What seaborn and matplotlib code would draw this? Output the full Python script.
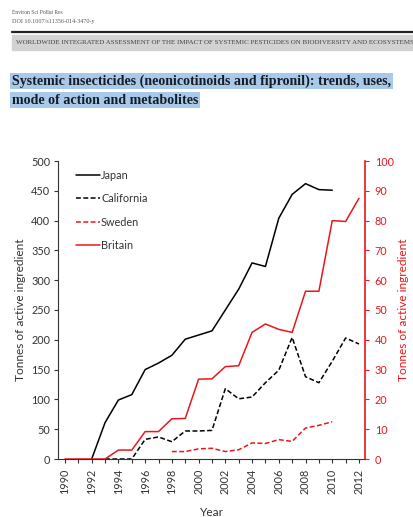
import numpy as np
import pandas as pd
import seaborn as sns
import matplotlib.pyplot as plt
from matplotlib.lines import Line2D

# Data
japan_years = list(range(1992, 2011))
japan = [0, 61, 99, 108, 150, 161, 174, 201, 208, 215, 250, 285, 329, 323, 404, 444, 462, 452, 451]

california_years = list(range(1993, 2013))
california = [0, 0, 0, 33, 37, 29, 47, 47, 48, 118, 101, 104, 128, 149, 204, 138, 128, 164, 203, 193]

sweden_years = list(range(1998, 2011))
sweden = [2.5, 2.5, 3.4, 3.6, 2.5, 3.1, 5.4, 5.2, 6.5, 5.9, 10.4, 11.3, 12.5]

britain_years = list(range(1990, 2013))
britain = [0, 0, 0, 0, 3, 3, 9.2, 9.2, 13.5, 13.6, 26.8, 26.9, 31, 31.3, 42.5, 45.3,
           43.5, 42.5, 56.3, 56.3, 80, 79.7, 87.5]

year_ticks = list(range(1990, 2013, 2))
left_ticks = list(range(0, 501, 50))
right_ticks = list(range(0, 101, 10))

RED = "#e8171b"
GREY = "#333333"
sns.set_style("white")
plt.rcParams['font.family'] = ['Lato', 'DejaVu Sans']

fig = plt.figure(figsize=(4.14, 5.17), dpi=100)

# page header of the paper
serif = ['Liberation Serif', 'DejaVu Serif']
fig.text(12 / 414, 1 - 12 / 517, "Environ Sci Pollut Res", fontsize=4.0, family=serif,
         color="#555555", va="center")
fig.text(12 / 414, 1 - 21 / 517, "DOI 10.1007/s11356-014-3470-y", fontsize=4.4, family=serif,
         color="#555555", va="center")
fig.add_artist(Line2D([12 / 414, 1], [1 - 32 / 517] * 2, color="#222222", lw=1.6))
fig.patches.append(plt.Rectangle((12 / 414, 1 - 50 / 517), 1 - 12 / 414, 15 / 517,
                                 transform=fig.transFigure, color="#d2d2d2", zorder=0))
fig.text(16 / 414, 1 - 42.5 / 517,
         "WORLDWIDE INTEGRATED ASSESSMENT OF THE IMPACT OF SYSTEMIC PESTICIDES ON BIODIVERSITY AND ECOSYSTEMS",
         fontsize=5.0, family=serif, color="#444444", va="center")

hl = dict(boxstyle="square,pad=0.12", fc="#a9c9ea", ec="none")
fig.text(12 / 414, 1 - 81 / 517, "Systemic insecticides (neonicotinoids and fipronil): trends, uses,",
         fontsize=10.1, family=serif, weight="bold", color="#141c26", va="center", bbox=hl)
fig.text(12 / 414, 1 - 100 / 517, "mode of action and metabolites",
         fontsize=10.1, family=serif, weight="bold", color="#141c26", va="center", bbox=hl)

# chart
ax = fig.add_axes([58 / 414, 1 - 459 / 517, (365 - 58) / 414, (459 - 161) / 517])
ax2 = ax.twinx()

dash = (3.2, 1.6)
sns.lineplot(x=japan_years, y=japan, ax=ax, color="black", lw=1.1, label="Japan", legend=False)
sns.lineplot(x=california_years, y=california, ax=ax, color="black", lw=1.1,
             label="California", legend=False).lines[-1].set_dashes(dash)
sns.lineplot(x=sweden_years, y=sweden, ax=ax2, color=RED, lw=1.1, label="Sweden",
             legend=False).lines[-1].set_dashes(dash)
sns.lineplot(x=britain_years, y=britain, ax=ax2, color=RED, lw=1.1, label="Britain", legend=False)

ax.set_xlim(1989.48, 2012.45)
ax.set_ylim(0, 500)
ax2.set_ylim(0, 100)
ax.set_yticks(left_ticks)
ax2.set_yticks(right_ticks)
ax.set_xticks(year_ticks)
ax.set_xticks(range(1990, 2013), minor=True)
ax.set_xticklabels([str(y) for y in year_ticks], rotation=90, fontsize=7.8, color=GREY)
ax.tick_params(axis="y", labelsize=7.8, labelcolor=GREY, direction="out", length=3, width=0.8,
               left=True, color=GREY, pad=2.5)
ax.tick_params(axis="x", which="both", direction="out", length=3, width=0.8, bottom=True,
               color=GREY, pad=4)
ax2.tick_params(axis="y", labelsize=7.8, labelcolor=RED, direction="out", length=3, width=0.8,
                right=True, color=RED, pad=4)

for a in (ax, ax2):
    a.spines["top"].set_visible(False)
    a.grid(False)
ax.spines["right"].set_visible(False)
ax2.spines["left"].set_visible(False)
ax2.spines["bottom"].set_visible(False)
ax2.spines["right"].set_color(RED)
ax2.spines["right"].set_linewidth(1.2)
ax.spines["left"].set_color(GREY)
ax.spines["bottom"].set_color(GREY)

ax.set_ylabel("Tonnes of active ingredient", fontsize=8.6, color=GREY, labelpad=4)
ax2.set_ylabel("Tonnes of active ingredient", fontsize=8.6, color=RED, labelpad=3)
ax.set_xlabel("Year", fontsize=8.6, color=GREY, labelpad=9)

handles = ax.get_lines() + ax2.get_lines()
leg = ax.legend(handles=handles, labels=["Japan", "California", "Sweden", "Britain"],
                loc="upper left", bbox_to_anchor=(0.045, 0.985), frameon=False, fontsize=7.8,
                handlelength=2.2, handletextpad=0.1, labelspacing=1.15, borderaxespad=0)
for t in leg.get_texts():
    t.set_color(GREY)

fig.savefig("out.png", dpi=100)
